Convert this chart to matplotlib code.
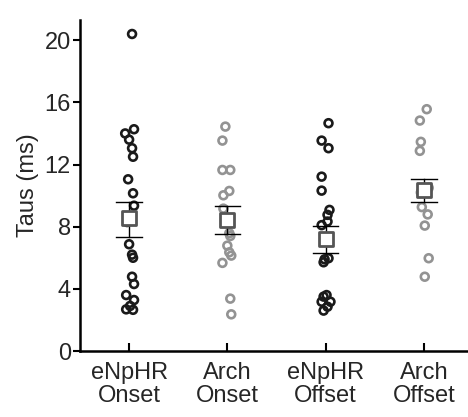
import numpy as np
import matplotlib
matplotlib.use("Agg")
import matplotlib.pyplot as plt

plt.rcParams['font.family'] = ['Liberation Sans', 'DejaVu Sans']

categories = ["eNpHR\nOnset", "Arch\nOnset", "eNpHR\nOffset", "Arch\nOffset"]

enphr_onset = [20.4, 14.27, 14.0, 13.6, 13.05, 12.5, 11.05, 10.15, 9.35, 8.3,
               6.87, 6.2, 6.0, 4.78, 4.31, 3.6, 3.28, 2.9, 2.68, 2.65]
arch_onset = [14.44, 13.54, 11.65, 11.65, 10.3, 10.02, 9.16, 7.58, 7.4, 6.78,
              6.35, 6.14, 5.67, 3.37, 2.36]
enphr_offset = [14.66, 13.54, 13.05, 11.22, 10.32, 9.08, 8.76, 8.33, 8.1, 5.9,
                5.97, 5.71, 3.5, 3.6, 3.17, 3.17, 2.85, 2.6]
arch_offset = [15.56, 14.83, 13.46, 12.88, 10.5, 10.2, 9.26, 8.79, 8.07, 5.97, 4.78]

means = [8.54, 8.44, 7.23, 10.37]
sem_upper = [9.61, 9.34, 8.07, 11.08]
sem_lower = [7.36, 7.51, 6.33, 9.58]

# horizontal scatter of the points within each column
jitter = [
    [0.03, 0.05, -0.04, 0.0, 0.03, 0.04, -0.01, 0.04, 0.05, -0.02,
     0.0, 0.03, 0.04, 0.03, 0.05, -0.03, 0.05, 0.01, -0.03, 0.04],
    [-0.02, -0.05, -0.05, 0.03, 0.02, -0.04, -0.04, 0.02, 0.03, 0.0,
     0.02, 0.04, -0.05, 0.03, 0.04],
    [0.03, -0.04, 0.03, -0.04, -0.04, 0.04, 0.02, 0.02, -0.04, -0.01,
     0.03, -0.02, -0.02, 0.01, -0.04, 0.05, 0.02, -0.02],
    [0.03, -0.04, -0.03, -0.04, 0.05, -0.03, -0.02, 0.04, 0.01, 0.05, 0.01],
]

groups = [enphr_onset, arch_onset, enphr_offset, arch_offset]
colors = ["#1a1a1a", "#939393", "#1a1a1a", "#939393"]
text_color = "#262626"

fig = plt.figure(figsize=(4.68, 4.17), dpi=100)
ax = fig.add_axes([80 / 468, (417 - 351) / 417, (467 - 80) / 468, (351 - 20) / 417])

for i, (vals, col) in enumerate(zip(groups, colors)):
    xpos = i + 1 + np.array(jitter[i])
    ax.scatter(xpos, vals, s=32, facecolors="none", edgecolors=col,
               linewidths=1.9, zorder=2)

xs = np.arange(1, 5)
for x, m, hi, lo in zip(xs, means, sem_upper, sem_lower):
    ax.plot([x, x], [lo, hi], color="black", lw=1.0, zorder=3)
    ax.plot([x - 0.13, x + 0.13], [hi, hi], color="black", lw=1.0, zorder=3)
    ax.plot([x - 0.13, x + 0.13], [lo, lo], color="black", lw=1.0, zorder=3)
ax.scatter(xs, means, marker="s", s=115, facecolors="white",
           edgecolors="#555555", linewidths=2.0, zorder=4)

ax.set_xlim(0.5, 4.44)
ax.set_ylim(0, 21.3)
ax.set_yticks([0, 4, 8, 12, 16, 20])
ax.set_xticks(xs)
ax.set_xticklabels(categories, fontsize=17, linespacing=1.05, color=text_color)
ax.tick_params(axis="y", labelsize=17, direction="out", length=5, width=1.5,
               pad=1.5, labelcolor=text_color)
ax.tick_params(axis="x", direction="in", length=6, width=1.5, pad=8)
for s in ["top", "right"]:
    ax.spines[s].set_visible(False)
for s in ["left", "bottom"]:
    ax.spines[s].set_linewidth(1.8)
ax.set_ylabel("Taus (ms)", fontsize=17, color=text_color, labelpad=4)

fig.savefig("out.png", dpi=100)
